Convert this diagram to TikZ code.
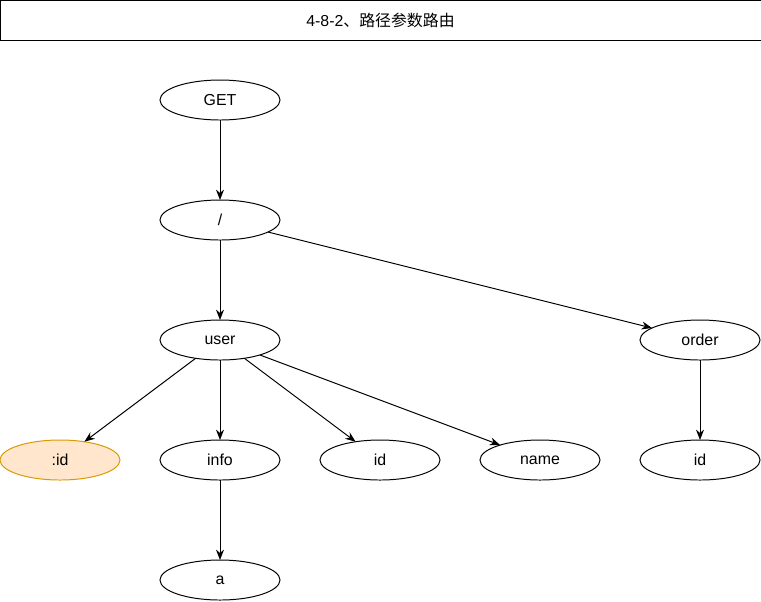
\documentclass[tikz,border=0pt]{standalone}
\usepackage{fontspec}
\setmainfont{Liberation Sans}
\newfontfamily\cjk{Noto Sans CJK SC}
\usetikzlibrary{shapes,arrows.meta,positioning}
\definecolor{keyfill}{HTML}{FFE6CC}
\definecolor{keydraw}{HTML}{D79B00}
\tikzset{
  routenode/.style={draw, ellipse, line width=0.7pt, minimum width=3cm, minimum height=1cm, inner sep=0pt, outer sep=0pt, font=\fontsize{11.3}{13}\selectfont},
  paramnode/.style={routenode, draw=keydraw, fill=keyfill},
  titlebox/.style={draw, line width=0.7pt, minimum width=19.025cm, minimum height=1cm, inner sep=0pt, font=\fontsize{11.3}{13}\selectfont},
  routeline/.style={-{Stealth[length=2.6mm,width=2mm]}, line width=0.7pt}
}
\begin{document}
\begin{tikzpicture}[node distance=3cm]
    \useasboundingbox (0,0) rectangle (19.025,-15.025);

    \node(title)[titlebox] at (9.5125,-0.5){4-8-2{\cjk 、路径参数路由}};

    \node(get)[routenode] at (5.5,-2.5){GET};
    \node(root)[routenode, below of = get]{/};
    \node(user)[routenode, below of = root]{user};
    \node(order)[routenode, right = 9cm of user]{order};
    \node(info)[routenode, below of = user]{info};
    \node(cid)[paramnode, left = 1cm of info]{:id};
    \node(uid)[routenode, right = 1cm of info]{id};
    \node(name)[routenode, right = 1cm of uid]{name};
    \node(oid)[routenode, below of = order]{id};
    \node(a)[routenode, below of = info]{a};

    \draw[routeline] (get) -- (root);
    \draw[routeline] (root) -- (user);
    \draw[routeline] (root) -- (order);
    \draw[routeline] (user) -- (cid);
    \draw[routeline] (user) -- (info);
    \draw[routeline] (user) -- (uid);
    \draw[routeline] (user) -- (name);
    \draw[routeline] (order) -- (oid);
    \draw[routeline] (info) -- (a);

\end{tikzpicture}
\end{document}
